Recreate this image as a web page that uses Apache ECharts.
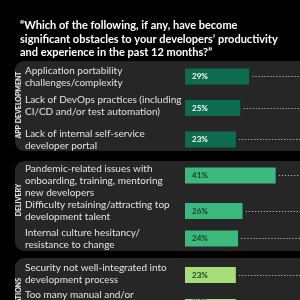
<!DOCTYPE html>
<html><head><meta charset="utf-8">
<script src="https://cdn.jsdelivr.net/npm/echarts@6/dist/echarts.min.js"></script>
<style>html,body{margin:0;padding:0;background:#000;}#c{width:300px;height:300px;}</style>
</head><body><div id="c"></div>
<script>
const titleText = '\u201CWhich of the following, if any, have become\nsignificant obstacles to your developers\u2019 productivity\nand experience in the past 12 months?\u201D';
const groups = ['APP DEVELOPMENT', 'DELIVERY', 'OPERATIONS'];
const categories = [
  'Application portability\nchallenges/complexity',
  'Lack of DevOps practices (including\nCI/CD and/or test automation)',
  'Lack of internal self-service\ndeveloper portal',
  'Pandemic-related issues with\nonboarding, training, mentoring\nnew developers',
  'Difficulty retaining/attracting top\ndevelopment talent',
  'Internal culture hesitancy/\nresistance to change',
  'Security not well-integrated into\ndevelopment process',
  'Too many manual and/or\ntime-consuming processes'
];
const categoryGroup = [0, 0, 0, 1, 1, 1, 2, 2];
const values = [29, 25, 23, 41, 26, 24, 23, 23];

// layout (positions / styles)
const rowCenters = [76.5, 108, 139.5, 175.5, 211, 238.5, 275, 307];
const labelShift = [0, -4, 0, 11, 0, 0, -2, 0];
const panels = [[61, 151], [161, 251], [258, 360]];
const barColors = ['#0c6c4d', '#3cba7e', '#a6df7a'];
const barTextColors = ['#ffffff', '#0f3b28', '#1e3a14'];
const XMAX = 52;
const FONT = 'Lato';

const grids = [], xAxes = [], yAxes = [], series = [];
categories.forEach((cat, i) => {
  const g = categoryGroup[i];
  const sh = labelShift[i];
  grids.push({left: 185, right: 0, top: rowCenters[i] - 8, height: 16});
  xAxes.push({type: 'value', gridIndex: i, min: 0, max: XMAX, show: false});
  yAxes.push({
    type: 'category', gridIndex: i, data: [cat],
    axisLine: {show: false}, axisTick: {show: false},
    axisLabel: {
      align: 'left', margin: 160, color: '#e2e2e2', fontFamily: FONT,
      fontSize: 10, lineHeight: 12,
      formatter: v => sh > 0 ? '{sp| }\n' + v : (sh < 0 ? v + '\n{sp| }' : v),
      rich: {sp: {fontSize: 1, lineHeight: Math.abs(sh)}}
    }
  });
  series.push({
    type: 'bar', xAxisIndex: i, yAxisIndex: i, data: [values[i]],
    barWidth: 16,
    itemStyle: {color: barColors[g]},
    label: {show: true, position: 'insideLeft', offset: [2, 0], formatter: '{c}%',
      color: barTextColors[g], fontFamily: FONT, fontWeight: 'bold', fontSize: 8},
    markLine: {
      silent: true, symbol: 'none', label: {show: false},
      lineStyle: {type: [1.2, 1.8], color: '#b8b8b8', width: 1},
      data: [[{coord: [values[i] + 1.5, cat]}, {coord: [XMAX, cat]}]]
    }
  });
});

const graphic = [];
panels.forEach((p, k) => {
  graphic.push({type: 'rect', z: -10, shape: {x: 15, y: p[0], width: 300, height: p[1] - p[0], r: [9, 0, 0, 9]},
    style: {fill: '#262626'}});
});
const groupCenters = [105, 200, 300];
groups.forEach((name, k) => {
  graphic.push({type: 'group', x: 18.5, y: groupCenters[k], rotation: Math.PI / 2, z: 10,
    children: [{type: 'text', x: 0, y: 0,
      style: {text: name, fill: '#f0f0f0', fontFamily: FONT, fontWeight: 'bold', fontSize: 7,
        align: 'center', verticalAlign: 'middle'}}]});
});

const chart = echarts.init(document.getElementById('c'));
chart.setOption({
  backgroundColor: '#000',
  animation: false,
  title: {text: titleText, left: 20, top: 19, padding: 0,
    textStyle: {color: '#ffffff', fontFamily: FONT, fontWeight: 'bold', fontSize: 11, lineHeight: 13.5}},
  grid: grids, xAxis: xAxes, yAxis: yAxes, series: series, graphic: graphic
});
</script></body></html>
